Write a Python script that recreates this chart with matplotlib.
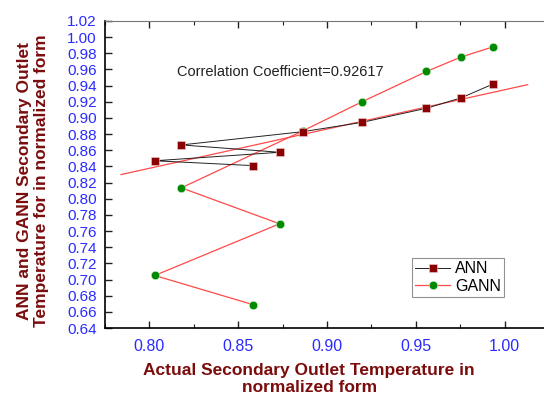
import numpy as np
import matplotlib
matplotlib.use('Agg')
import matplotlib.pyplot as plt
from matplotlib.ticker import MultipleLocator, FormatStrFormatter

# actual (normalized) outlet temperature, shared by both series
actual = [0.8582, 0.803, 0.8733, 0.818, 0.8864, 0.9197, 0.956, 0.9757, 0.9935]
ann = [0.841, 0.847, 0.8575, 0.8666, 0.883, 0.8945, 0.912, 0.925, 0.942]
gann = [0.669, 0.705, 0.769, 0.8135, 0.884, 0.920, 0.9575, 0.9756, 0.988]
corr_text = 'Correlation Coefficient=0.92617'

plt.rcParams['font.family'] = ['Liberation Sans', 'DejaVu Sans']

dark_red = '#8b0000'
label_red = '#7a0c0c'
tick_blue = '#2b2bff'
line_red = '#ff4a4a'

fig = plt.figure(figsize=(5.44, 3.97), dpi=100)
ax = fig.add_axes([105 / 544, 69 / 397, 444 / 544, 307 / 397])

# linear fit of ANN output
k, b = np.polyfit(actual, ann, 1)
fx = np.array([0.784, 1.013])
ax.plot(fx, k * fx + b, color=line_red, lw=0.9, zorder=1)

ax.plot(actual, ann, color='#222222', lw=0.7, marker='s', ms=6,
        mfc=dark_red, mec='#f0d0d0', mew=0.4, label='ANN', zorder=3)
ax.plot(actual, gann, color=line_red, lw=0.9, marker='o', ms=6,
        mfc='#008a00', mec='#c8f0c8', mew=0.4, label='GANN', zorder=2)

ax.set_xlim(0.775, 1.025)
ax.set_ylim(0.64, 1.02)
ax.xaxis.set_major_locator(MultipleLocator(0.05))
ax.xaxis.set_minor_locator(MultipleLocator(0.025))
ax.xaxis.set_major_formatter(FormatStrFormatter('%.2f'))
ax.yaxis.set_major_locator(MultipleLocator(0.02))
ax.yaxis.set_major_formatter(FormatStrFormatter('%.2f'))

ax.tick_params(axis='both', which='both', direction='in', top=True,
               labelsize=11, labelcolor=tick_blue, color='#222222')
ax.tick_params(axis='x', which='major', length=5, width=1, pad=8, labelsize=11.5)
ax.tick_params(axis='x', which='minor', length=3, width=0.8)
ax.tick_params(axis='y', which='major', length=5, width=1, pad=6)

ax.spines['right'].set_visible(False)
ax.spines['top'].set_color('#777777')
ax.spines['top'].set_linewidth(0.8)
ax.spines['left'].set_linewidth(1.2)
ax.spines['bottom'].set_linewidth(1.2)

ax.text(0.8158, 0.957, corr_text, fontsize=10.5, color='#222222', va='center')

ax.set_xlabel('Actual Secondary Outlet Temperature in\nnormalized form',
              fontsize=12.5, fontweight='bold', color=label_red, linespacing=1.15)
ax.xaxis.set_label_coords(0.46, -0.115, transform=ax.transAxes)
ax.xaxis.label.set_va('top')
ax.set_ylabel('ANN and GANN Secondary Outlet\nTemperature for in normalized form',
              fontsize=12.5, fontweight='bold', color=label_red, linespacing=1.1)
ax.yaxis.set_label_coords(-0.127, 0.48)

leg = ax.legend(loc='upper left', bbox_to_anchor=(307 / 444, 1 - 237 / 307),
                fontsize=11.5, frameon=True, fancybox=False, borderpad=0.2,
                handlelength=2.2, handletextpad=0.3, labelspacing=0.15,
                borderaxespad=0)
leg.get_frame().set_edgecolor('#777777')
leg.get_frame().set_linewidth(0.8)

fig.savefig('out.png', dpi=100)
